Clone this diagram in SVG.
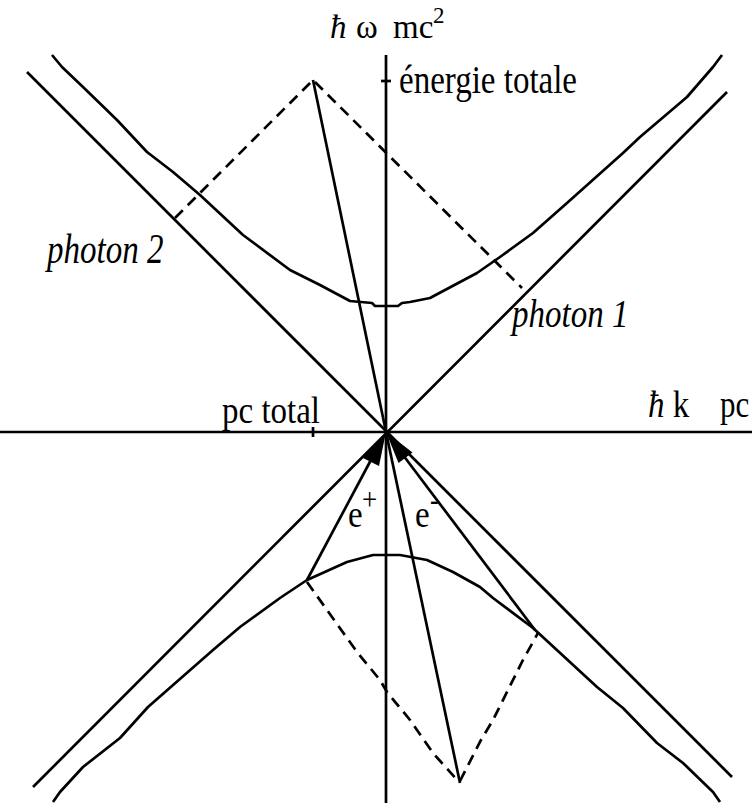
<svg xmlns="http://www.w3.org/2000/svg" width="752" height="803" viewBox="0 0 752 803">
<style>
.ln{fill:none;stroke:#000;stroke-width:2.7;stroke-linejoin:round;stroke-linecap:butt}
.ds{fill:none;stroke:#000;stroke-width:2.7;stroke-dasharray:11 7}
.t{font-family:"Liberation Serif","Times New Roman",serif;font-size:33px;fill:#000}
.i{font-style:italic}
.ah{fill:#000;stroke:none}
</style>
<rect width="752" height="803" fill="#fff"/>
<g id="axes">
<line class="ln" x1="386" y1="55" x2="386" y2="803"/>
<line class="ln" x1="0" y1="432" x2="752" y2="432"/>
<line class="ln" x1="381" y1="81" x2="391" y2="81"/>
<line class="ln" x1="313" y1="427" x2="313" y2="437"/>
</g>
<g id="light-cone">
<line class="ln" x1="27" y1="72" x2="732" y2="777"/>
<line class="ln" x1="727" y1="92" x2="33" y2="787"/>
</g>
<g id="hyperbola-upper">
<polyline class="ln" points="52,55 62,67 83,87 117,120 147,152 173,172 200,195 243,235 290,270 320,285 350,301 372,303 375,306 398,306 402,303 410,302 430,298 477,273 500,257 533,233 567,203 623,153 640,137 687,97 713,67 722,55"/>
</g>
<g id="hyperbola-lower">
<polyline class="ln" points="53,802 60,792 83,767 120,738 148,707 213,650 240,627 280,598 307,580 347,562 373,555 400,555 427,560 453,572 480,587 493,598 533,628 597,687 623,708 657,743 683,763 713,792 720,802"/>
</g>
<g id="connectors">
<line class="ln" x1="386" y1="432" x2="313" y2="80"/>
<polyline class="ds" points="175,218 313,80 522,288"/>
<line class="ln" x1="386" y1="432" x2="460" y2="783"/>
<line class="ln" x1="372" y1="458" x2="307" y2="580"/>
<line class="ln" x1="403" y1="455" x2="535" y2="630"/>
<polyline class="ds" points="307,582 357,652 380,680 387,692 410,720 433,753 458,781"/>
<polyline class="ds" points="460,781 481,740 493,720 508,690 523,660 538,633"/>
<polygon class="ah" points="386,432 363,458 379,466"/>
<polygon class="ah" points="386,432 412.5,452.5 398.5,463"/>
</g>
<g id="labels">
<text class="t" transform="translate(330,38)"><tspan class="i" x="0">ħ</tspan><tspan x="26">ω</tspan><tspan x="63">mc</tspan><tspan x="103" y="-15" font-size="23">2</tspan></text>
<text class="t" transform="translate(399,93) scale(1,1.22)">énergie totale</text>
<text class="t i" transform="translate(47,263) scale(1,1.28)">photon 2</text>
<text class="t i" transform="translate(512,327) scale(1,1.22)">photon 1</text>
<text class="t" transform="translate(222,423) scale(1,1.18)">pc total</text>
<text class="t" transform="translate(648,417) scale(1,1.18)"><tspan class="i">ħ</tspan> k</text>
<text class="t" font-size="31" style="font-size:31px" transform="translate(720,417) scale(1,1.2)">pc</text>
<text class="t" transform="translate(348,527) scale(1,1.18)">e<tspan x="14" y="-14" font-size="27">+</tspan></text>
<text class="t" transform="translate(415,527) scale(1,1.18)">e<tspan x="15" y="-14" font-size="26">-</tspan></text>
</g>
</svg>
